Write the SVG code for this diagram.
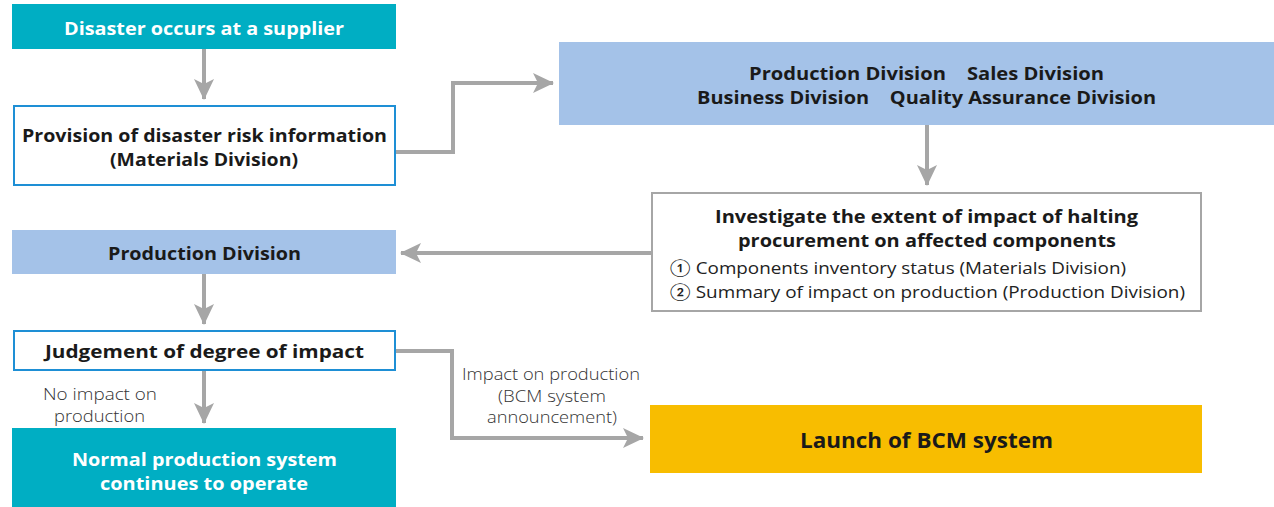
<svg xmlns="http://www.w3.org/2000/svg" width="1274" height="507" viewBox="0 0 1274 507">
<style>
.b{font-family:"Open Sans",Lato,"DejaVu Sans",sans-serif;font-weight:700;font-size:18px;fill:#1a1a1a;text-anchor:middle}
.w{fill:#ffffff}
.r{font-family:"Open Sans",Lato,"DejaVu Sans",sans-serif;font-weight:400;font-size:17px;fill:#222}
.l{font-family:"Open Sans",Lato,"DejaVu Sans",sans-serif;font-weight:300;font-size:16.5px;fill:#333;text-anchor:middle}
.c{fill:none;stroke:#a6a6a6;stroke-width:4}
.teal{fill:#00aec3}
.lb{fill:#a4c2e8}
.wb{fill:#fff;stroke:#1e8fd5;stroke-width:2}
.gb{fill:#fff;stroke:#a6a6a6;stroke-width:2}
</style>
<defs>
<marker id="ah" markerUnits="userSpaceOnUse" markerWidth="22" markerHeight="22" viewBox="0 0 22 22" refX="20" refY="11" orient="auto">
<path d="M0,1 L21,11 L0,21 L5,11 Z" fill="#a6a6a6"/>
</marker>
</defs>
<g id="connectors">
<path class="c" d="M204,49 V99" marker-end="url(#ah)"/>
<path class="c" d="M396,152 H453 V83 H553" marker-end="url(#ah)"/>
<path class="c" d="M927,125 V185" marker-end="url(#ah)"/>
<path class="c" d="M651,253 H401" marker-end="url(#ah)"/>
<path class="c" d="M204,274 V324" marker-end="url(#ah)"/>
<path class="c" d="M204,370 V423" marker-end="url(#ah)"/>
<path class="c" d="M396,351 H452 V438 H643" marker-end="url(#ah)"/>
</g>
<g id="n1"><rect class="teal" x="12" y="4" width="384" height="45"/><text class="b w" x="204" y="35" textLength="280" lengthAdjust="spacingAndGlyphs">Disaster occurs at a supplier</text></g>
<g id="n2"><rect class="wb" x="14" y="106" width="381" height="79"/><text class="b" x="204.5" y="142" textLength="365" lengthAdjust="spacingAndGlyphs">Provision of disaster risk information</text><text class="b" x="204" y="166" textLength="188" lengthAdjust="spacingAndGlyphs">(Materials Division)</text></g>
<g id="n3"><rect class="lb" x="559" y="42" width="715" height="83"/><text class="b" x="926.5" y="80" xml:space="preserve" textLength="355" lengthAdjust="spacingAndGlyphs">Production Division    Sales Division</text><text class="b" x="926.5" y="104" xml:space="preserve" textLength="459" lengthAdjust="spacingAndGlyphs">Business Division    Quality Assurance Division</text></g>
<g id="n4"><rect class="gb" x="652" y="193" width="549" height="118"/><text class="b" x="926.5" y="223" textLength="423" lengthAdjust="spacingAndGlyphs">Investigate the extent of impact of halting</text><text class="b" x="927" y="247" textLength="378" lengthAdjust="spacingAndGlyphs">procurement on affected components</text><text class="r" x="670" y="274" textLength="456" lengthAdjust="spacingAndGlyphs">① Components inventory status (Materials Division)</text><text class="r" x="670" y="298" textLength="515" lengthAdjust="spacingAndGlyphs">② Summary of impact on production (Production Division)</text></g>
<g id="n5"><rect class="lb" x="12" y="230" width="384" height="44"/><text class="b" x="204.5" y="260" textLength="193" lengthAdjust="spacingAndGlyphs">Production Division</text></g>
<g id="n6"><rect class="wb" x="14" y="331" width="381" height="39"/><text class="b" x="204.5" y="358" textLength="319" lengthAdjust="spacingAndGlyphs">Judgement of degree of impact</text></g>
<g id="n7"><rect class="teal" x="12" y="428" width="384" height="79"/><text class="b w" x="204.5" y="466" textLength="265" lengthAdjust="spacingAndGlyphs">Normal production system</text><text class="b w" x="204" y="490" textLength="208" lengthAdjust="spacingAndGlyphs">continues to operate</text></g>
<g id="n8"><rect fill="#f8bd00" x="650" y="405" width="552" height="68"/><text class="b" x="926.5" y="448" style="font-size:21px" textLength="253" lengthAdjust="spacingAndGlyphs">Launch of BCM system</text></g>
<g id="labels"><text class="l" x="100" y="400" textLength="114" lengthAdjust="spacingAndGlyphs">No impact on</text><text class="l" x="99.5" y="422" textLength="91" lengthAdjust="spacingAndGlyphs">production</text><text class="l" x="551" y="380" textLength="178" lengthAdjust="spacingAndGlyphs">Impact on production</text><text class="l" x="552" y="402" textLength="108" lengthAdjust="spacingAndGlyphs">(BCM system</text><text class="l" x="552" y="423" textLength="130" lengthAdjust="spacingAndGlyphs">announcement)</text></g>
</svg>
